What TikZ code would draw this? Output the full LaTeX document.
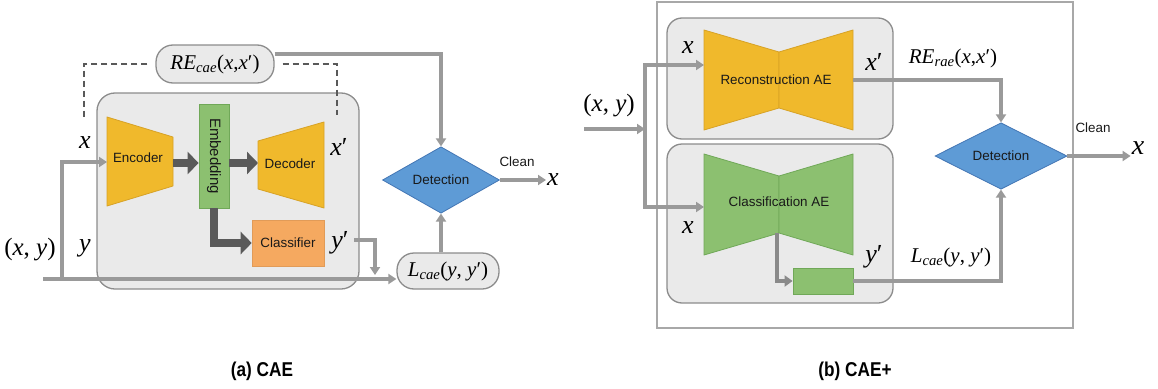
\documentclass[tikz,border=0pt]{standalone}
\usepackage{fontspec}
\setmainfont{Liberation Sans}
\newfontfamily\tms{Liberation Serif}
\usetikzlibrary{shapes.geometric,arrows.meta,calc}

\definecolor{panel}{HTML}{EAEAEA}
\definecolor{panelline}{HTML}{8C8C8C}
\definecolor{ae}{HTML}{F0B92C}
\definecolor{aeline}{HTML}{D7A226}
\definecolor{emb}{HTML}{8CC070}
\definecolor{embline}{HTML}{70A858}
\definecolor{clf}{HTML}{F5A960}
\definecolor{det}{HTML}{5E9BD6}
\definecolor{detline}{HTML}{4376B4}
\definecolor{wire}{HTML}{9A9A9A}
\definecolor{wiredark}{HTML}{8A8A8A}
\definecolor{heavy}{HTML}{5A5A5A}
\definecolor{frameline}{HTML}{A8A8A8}

\newcommand{\sz}[1]{\fontsize{#1pt}{#1pt}\selectfont}

\tikzset{
  panelbox/.style={draw=panelline, fill=panel, line width=1.3pt, rounded corners=18pt, inner sep=0pt},
  pill/.style={draw=panelline, fill=panel, line width=1.3pt, rounded corners=17pt, inner sep=0pt,
    font=\tms\sz{21}},
  aeshape/.style={draw=aeline, fill=ae, line width=0.8pt, line join=round},
  greenshape/.style={draw=embline, fill=emb, line width=0.8pt, line join=round},
  greenbox/.style={draw=embline, fill=emb, line width=0.8pt, inner sep=0pt},
  clfbox/.style={draw=clf!92!black, fill=clf, line width=0.6pt, inner sep=0pt},
  detbox/.style={diamond, draw=detline, fill=det, line width=0.8pt, inner sep=0pt},
  sans/.style={font=\sz{13.4}, text=black!90},
  sym/.style={font=\tms\sz{26}, inner sep=1pt},
  pair/.style={font=\tms\sz{25}, inner sep=1pt},
  loss/.style={font=\tms\sz{21}, inner sep=1pt},
  wirearrow/.style={draw=wire, line width=3.1pt, -{Triangle[length=8pt,width=10pt]}},
  wirethick/.style={draw=wiredark, line width=3.8pt, -{Triangle[length=8pt,width=11pt]}},
  heavyarrow/.style={draw=heavy, line width=8pt, -{Triangle[length=11pt,width=22pt]}},
  dashline/.style={draw=black!65, line width=1.3pt, dash pattern=on 6pt off 4pt},
  caption/.style={font=\bfseries\sz{20}},
}

\begin{document}
\begin{tikzpicture}[x=1pt,y=-1pt]
\useasboundingbox (0,0) rectangle (1158,388);

% ---------------- (a) CAE ----------------
\node[panelbox, minimum width=262pt, minimum height=196pt] (caebox) at (228,191) {};

\node[pill, minimum width=118pt, minimum height=38pt] (re) at (215,64)
  {\textit{RE}\textsubscript{\textit{cae}}(\textit{x},\textit{x}′)};

% encoder and decoder trapezoids
\draw[aeshape] (107,117) -- (173,137) -- (173,186) -- (107,206) -- cycle;
\node[sans] (enc) at (138,158) {Encoder};
\draw[aeshape] (258,141) -- (324,122) -- (324,208) -- (258,189) -- cycle;
\node[sans] (dec) at (290,164) {Decoder};

\node[greenbox, minimum width=104pt, minimum height=30pt, rotate=-90,
  font=\sz{15}, text=black!90] (emb) at (214,156) {Embedding};
\node[clfbox, sans, minimum width=72pt, minimum height=46pt] (clf) at (288,243) {Classifier};

\coordinate (encin) at (107,162);
\coordinate (encout) at (173,163);
\coordinate (decin) at (258,163);

\draw[heavyarrow] (encout) -- (encout -| emb.south);
\draw[heavyarrow] (emb.north |- decin) -- (decin);
\draw[heavyarrow] (emb.east) |- (clf.west);

% symbols around the autoencoder
\node[sym] (xa) at (85,143) {\textit{x}};
\node[sym] (xpa) at (339,147) {\textit{x}′};
\node[sym] (ypa) at (340,243) {\textit{y}′};
\node[sym] (ya) at (85,248) {\textit{y}};
\node[pair] (xya) at (30,250) {(\textit{x}, \textit{y})};

% dashed links from the reconstruction error
\coordinate (dl) at (84,118);
\coordinate (dr) at (337,115);
\draw[dashline] ([xshift=-8pt]re.west) -| (dl);
\draw[dashline] ([xshift=8pt]re.east) -| (dr);

% detection
\node[detbox, sans, minimum width=117pt, minimum height=66pt] (det) at (441,180) {Detection};
\node[pill, minimum width=102pt, minimum height=36pt] (lcae) at (448,271)
  {\textit{L}\textsubscript{\textit{cae}}(\textit{y}, \textit{y}′)};
\node[sans] (cleana) at (517,162) {Clean};
\node[sym] (outa) at (553,180) {\textit{x}};

\draw[wirearrow] ([yshift=10pt]re.east) -| (det.north);
\draw[wirearrow] (det.south |- lcae.north) -- (det.south);
\draw[wirearrow] (det.east) -- (outa.west);

% input wires
\coordinate (ina) at (43,279);
\coordinate (splita) at (62,279);
\draw[wirearrow] (ina) -- (ina -| lcae.west);
\draw[wirearrow] (splita) |- (encin);
\coordinate (yout) at (354,240);
\coordinate (ydrop) at (375,275);
\draw[wirearrow] (yout) -| (ydrop);

\node[caption] (capa) at (262,371) {\scalebox{0.86}[1]{(a) CAE}};

% ---------------- (b) CAE+ ----------------
\draw[frameline, line width=1.4pt] (657,2) rectangle (1073,328);

\node[panelbox, rounded corners=15pt, minimum width=226pt, minimum height=121pt] (upbox) at (780,78.5) {};
\node[panelbox, rounded corners=15pt, minimum width=226pt, minimum height=159pt] (lowbox) at (780,223.5) {};

% reconstruction autoencoder (bow tie)
\draw[aeshape] (704,30) -- (779,52) -- (779,108) -- (704,130) -- cycle;
\draw[aeshape] (779,52) -- (853,30) -- (853,130) -- (779,108) -- cycle;
\node[sans] (rae) at (776,80) {Reconstruction AE};

% classification autoencoder (bow tie)
\draw[greenshape] (704,154) -- (779,176) -- (779,233) -- (704,255) -- cycle;
\draw[greenshape] (779,176) -- (853,154) -- (853,255) -- (779,233) -- cycle;
\node[sans] (cae) at (779,202) {Classification AE};
\node[greenbox, minimum width=60pt, minimum height=26pt] (head) at (823,281) {};

\coordinate (caebot) at (777,233);
\draw[wirethick] (caebot) |- (head.west);

% symbols
\node[pair] (xyb) at (609,106) {(\textit{x}, \textit{y})};
\node[sym] (xb1) at (688,48) {\textit{x}};
\node[sym] (xb2) at (688,228) {\textit{x}};
\node[sym] (xpb) at (874,62) {\textit{x}′};
\node[sym] (ypb) at (874,257) {\textit{y}′};
\node[loss] (reb) at (953,58) {\textit{RE}\textsubscript{\textit{rae}}(\textit{x},\textit{x}′)};
\node[loss] (lb) at (951,257) {\textit{L}\textsubscript{\textit{cae}}(\textit{y}, \textit{y}′)};

% input wires
\coordinate (inb) at (584,129);
\coordinate (splitb) at (645,129);
\coordinate (raein) at (704,65);
\coordinate (caein) at (704,207);
\draw[wirearrow] (inb) -- (splitb);
\draw[wirearrow] (splitb) |- (raein);
\draw[wirearrow] (splitb) |- (caein);

% detection
\node[detbox, sans, minimum width=132pt, minimum height=64pt] (det2) at (1001,156) {Detection};
\node[sans] (cleanb) at (1093,128) {Clean};
\node[sym, font=\tms\sz{28}] (outb) at (1138,148) {\textit{x}};

\coordinate (raeout) at (853,80);
\draw[wirearrow] (raeout) -| (det2.north);
\draw[wirearrow] (head.east) -| (det2.south);
\draw[wirearrow] (det2.east) -- (det2.east -| outb.west);

\node[caption] (capb) at (855,371) {\scalebox{0.86}[1]{(b) CAE+}};
\end{tikzpicture}
\end{document}
